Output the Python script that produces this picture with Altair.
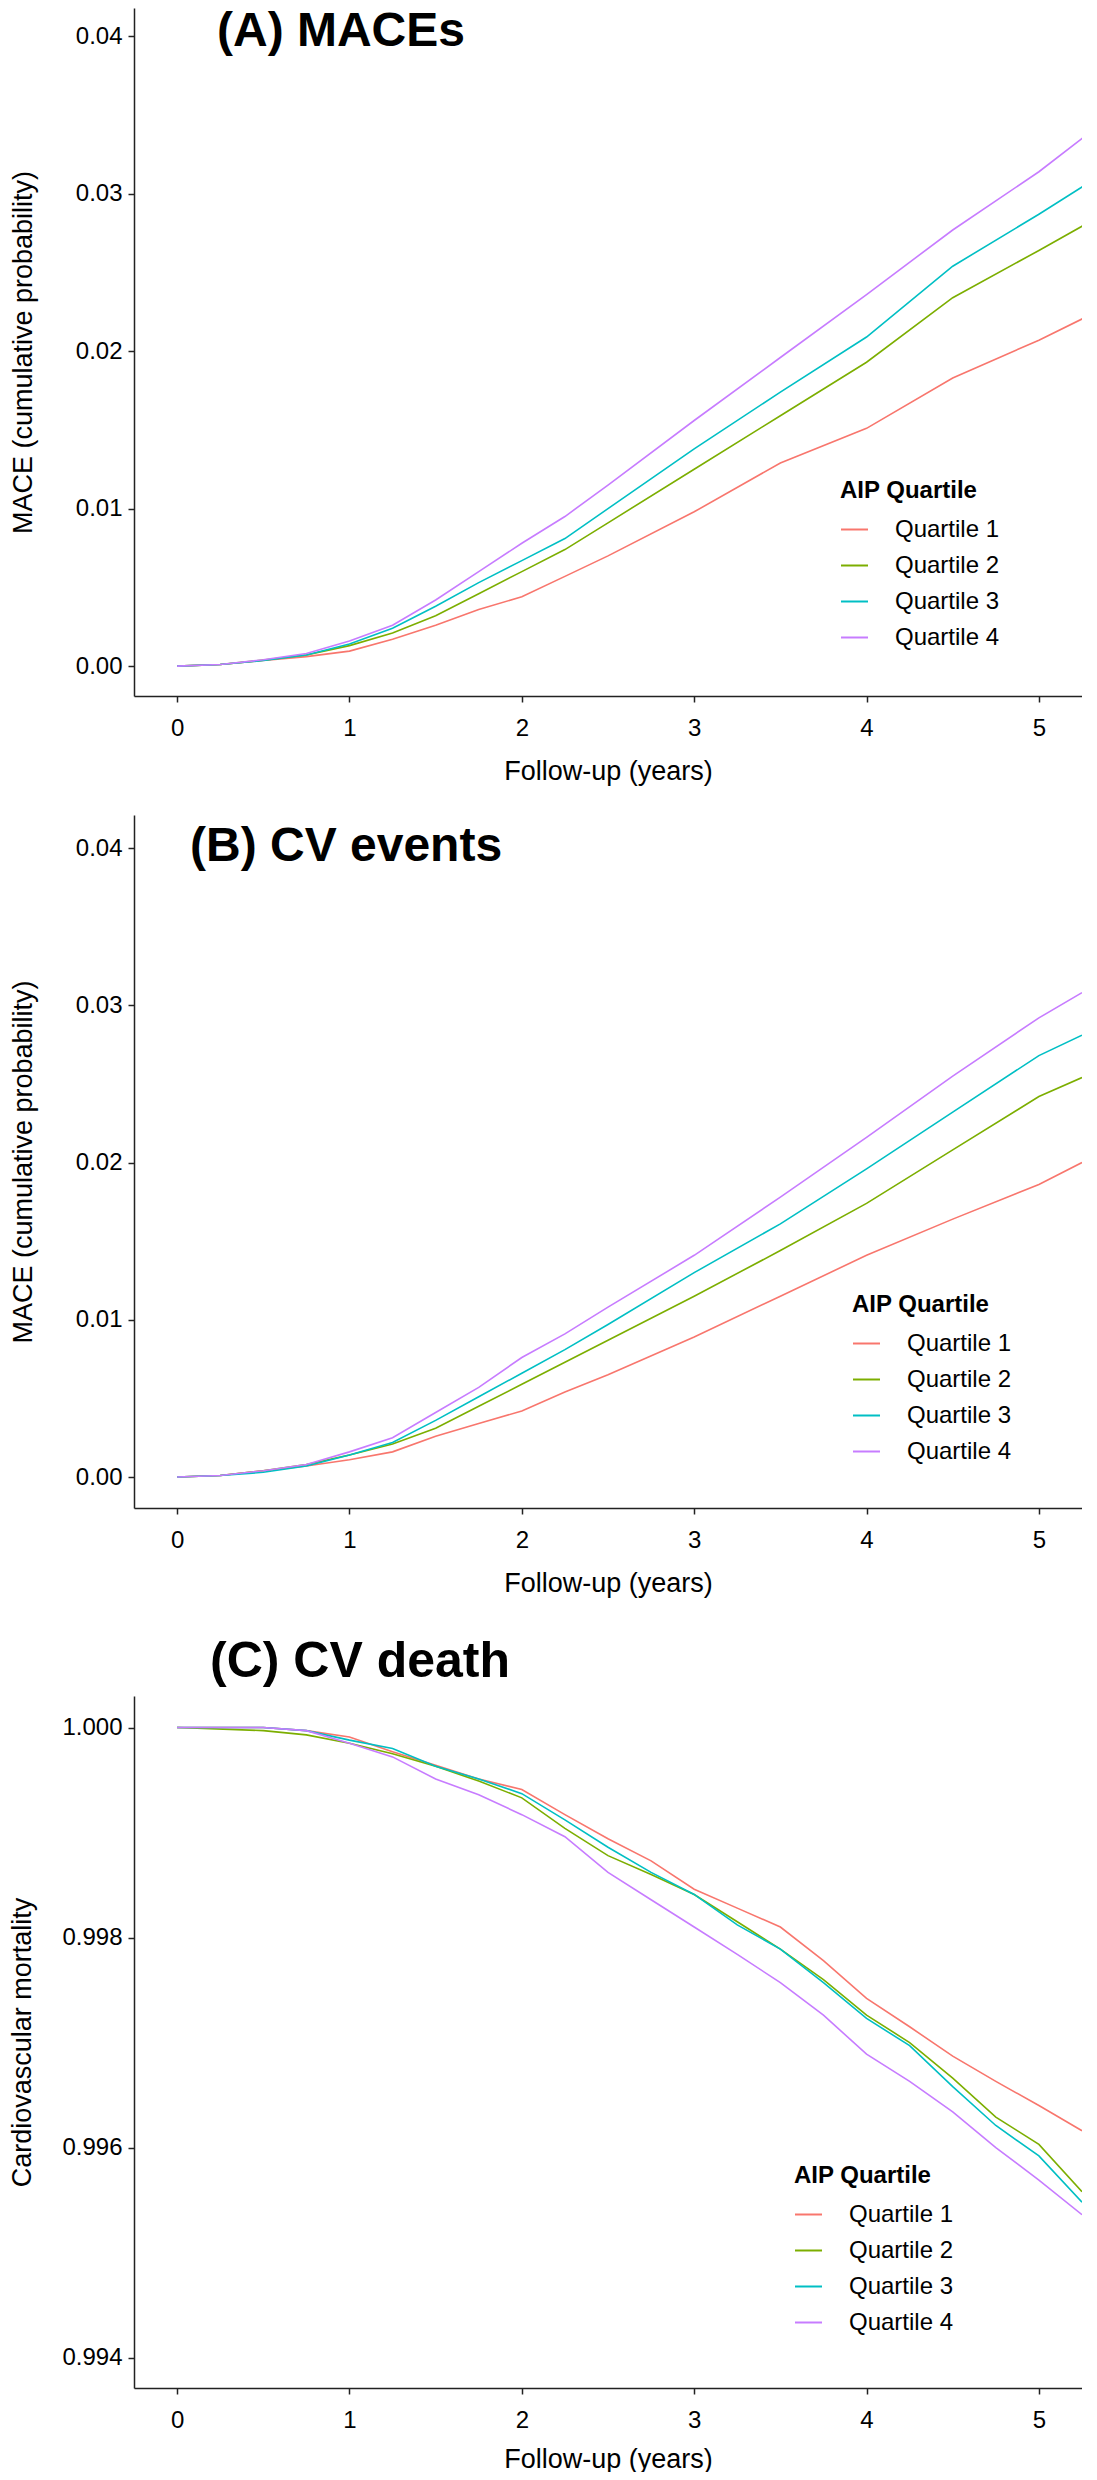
import altair as alt
import pandas as pd

quartiles = ["Quartile 1", "Quartile 2", "Quartile 3", "Quartile 4"]
colors = ["#F8766D", "#7CAE00", "#00BFC4", "#C77CFF"]

# ---------------- Panel A: MACEs ----------------
years_a = [0, 0.25, 0.5, 0.75, 1.0, 1.25, 1.5, 1.75, 2.0, 2.25, 2.5, 3.0, 3.5, 4.0, 4.5, 5.0, 5.26]
a_q1 = [0, 0.0001, 0.00035, 0.0006, 0.00095, 0.0017, 0.0026, 0.0036, 0.0044, 0.0057, 0.0070, 0.0098, 0.0129, 0.0151, 0.0183, 0.0207, 0.0221]
a_q2 = [0, 0.0001, 0.00038, 0.0007, 0.0013, 0.0021, 0.0032, 0.0046, 0.0060, 0.0074, 0.0091, 0.0125, 0.0159, 0.0193, 0.0234, 0.0264, 0.0280]
a_q3 = [0, 0.0001, 0.00035, 0.0007, 0.0014, 0.0024, 0.0038, 0.0053, 0.0067, 0.0081, 0.0100, 0.0138, 0.0174, 0.0209, 0.0254, 0.0287, 0.0305]
a_q4 = [0, 0.0001, 0.0004, 0.0008, 0.0016, 0.0026, 0.0042, 0.0060, 0.0078, 0.0095, 0.0115, 0.0156, 0.0196, 0.0236, 0.0277, 0.0314, 0.0336]

# ---------------- Panel B: CV events ----------------
years_b = [0, 0.25, 0.5, 0.75, 1.0, 1.25, 1.5, 1.75, 2.0, 2.25, 2.5, 3.0, 3.5, 4.0, 4.5, 5.0, 5.25]
b_q1 = [0, 0.0001, 0.0004, 0.0007, 0.0011, 0.0016, 0.0026, 0.0034, 0.0042, 0.0054, 0.0065, 0.0089, 0.0115, 0.0141, 0.0164, 0.0186, 0.0200]
b_q2 = [0, 0.0001, 0.0004, 0.0008, 0.0014, 0.0021, 0.0031, 0.0045, 0.0059, 0.0073, 0.0087, 0.0115, 0.0144, 0.0174, 0.0208, 0.0242, 0.0254]
b_q3 = [0, 0.0001, 0.0003, 0.0007, 0.0014, 0.0022, 0.0036, 0.0051, 0.0066, 0.0081, 0.0097, 0.0130, 0.0161, 0.0196, 0.0232, 0.0268, 0.0281]
b_q4 = [0, 0.0001, 0.0004, 0.0008, 0.0016, 0.0025, 0.0041, 0.0057, 0.0076, 0.0091, 0.0108, 0.0141, 0.0178, 0.0216, 0.0255, 0.0292, 0.0308]

# ---------------- Panel C: CV death ----------------
years_c = [0, 0.5, 0.75, 1.0, 1.25, 1.5, 1.75, 2.0, 2.25, 2.5, 2.75, 3.0, 3.25, 3.5, 3.75, 4.0, 4.25, 4.5, 4.75, 5.0, 5.25]
c_q1 = [1.0, 1.0, 0.99997, 0.99991, 0.99977, 0.99964, 0.99951, 0.99941, 0.99917, 0.99894, 0.99873, 0.99846, 0.99828, 0.99810, 0.99778, 0.99742, 0.99715, 0.99687, 0.99663, 0.99640, 0.99616]
c_q2 = [1.0, 0.99997, 0.99993, 0.99985, 0.99975, 0.99963, 0.99949, 0.99933, 0.99904, 0.99878, 0.99860, 0.99841, 0.99815, 0.99789, 0.99760, 0.99726, 0.99700, 0.99666, 0.99629, 0.99603, 0.99558]
c_q3 = [1.0, 1.0, 0.99997, 0.99988, 0.99980, 0.99963, 0.99951, 0.99937, 0.99912, 0.99886, 0.99862, 0.99841, 0.99812, 0.99789, 0.99757, 0.99723, 0.99697, 0.99658, 0.99621, 0.99592, 0.99548]
c_q4 = [1.0, 1.0, 0.99997, 0.99985, 0.99972, 0.99951, 0.99936, 0.99917, 0.99896, 0.99862, 0.99836, 0.99810, 0.99784, 0.99757, 0.99726, 0.99689, 0.99663, 0.99634, 0.99600, 0.99569, 0.99536]

x_ticks = [0, 1, 2, 3, 4, 5]
y_ticks_ab = [0.0, 0.01, 0.02, 0.03, 0.04]
y_ticks_c = [0.994, 0.996, 0.998, 1.0]

FONT = "Liberation Sans"


def long_table(years, series):
    rows = []
    for q, vals in zip(quartiles, series):
        for t, v in zip(years, vals):
            rows.append({"year": t, "value": v, "group": q})
    return pd.DataFrame(rows)


def panel(df, title_params, ydomain, yticks, yfmt, ytitle, height, legend_x, legend_y,
          ytitle_pad, xtitle_pad=18):
    color = alt.Color(
        "group:N",
        scale=alt.Scale(domain=quartiles, range=colors),
        legend=alt.Legend(
            title="AIP Quartile", orient="none", legendX=legend_x, legendY=legend_y,
            symbolType="stroke", symbolSize=729, symbolStrokeWidth=2,
            labelFontSize=24, titleFontSize=24, titleFontWeight="bold",
            labelFont=FONT, titleFont=FONT, labelColor="black", titleColor="black",
            rowPadding=9, labelOffset=26, titlePadding=12,
        ),
    )
    x = alt.X(
        "year:Q",
        scale=alt.Scale(domain=[-0.25, 5.25], nice=False, zero=False),
        axis=alt.Axis(values=x_ticks, format="d", title="Follow-up (years)",
                      labelPadding=14, titlePadding=xtitle_pad),
    )
    y = alt.Y(
        "value:Q",
        scale=alt.Scale(domain=ydomain, nice=False, zero=False),
        axis=alt.Axis(values=yticks, format=yfmt, title=ytitle,
                      labelPadding=6, titlePadding=ytitle_pad),
    )
    return (
        alt.Chart(df)
        .mark_line(strokeWidth=1.6, clip=True)
        .encode(x=x, y=y, color=color)
        .properties(width=948, height=height, title=title_params)
    )


title_a = alt.TitleParams(text="(A) MACEs", anchor="start", frame="group", fontSize=48,
                          fontWeight="bold", font=FONT, color="black", dx=83, dy=48, offset=0)
title_b = alt.TitleParams(text="(B) CV events", anchor="start", frame="group", fontSize=48,
                          fontWeight="bold", font=FONT, color="black", dx=56, dy=56, offset=0)
# the empty first line of panel C's title only adds a little room above it
title_c = alt.TitleParams(text=["", "(C) CV death"], anchor="start", frame="group",
                          fontSize=50, fontWeight="bold", font=FONT, color="black",
                          dx=76, offset=9, lineHeight=10)

chart_a = panel(long_table(years_a, [a_q1, a_q2, a_q3, a_q4]), title_a,
                [-0.0019, 0.0418], y_ticks_ab, ".2f", "MACE (cumulative probability)",
                688, 706, 471, 38)
chart_b = panel(long_table(years_b, [b_q1, b_q2, b_q3, b_q4]), title_b,
                [-0.00197, 0.0421], y_ticks_ab, ".2f", "MACE (cumulative probability)",
                693, 718, 478, 38)
chart_c = panel(long_table(years_c, [c_q1, c_q2, c_q3, c_q4]), title_c,
                [0.99371, 1.0003], y_ticks_c, ".3f", "Cardiovascular mortality",
                692, 660, 468, 25, xtitle_pad=14)

chart = (
    alt.vconcat(chart_a, chart_b, chart_c, spacing=31)
    .resolve_scale(color="independent")
    .resolve_legend(color="independent")
    .properties(padding=0, background="white")
    .configure_view(stroke=None)
    .configure_axis(
        grid=False, domainColor="#222222", domainWidth=1.5, tickColor="#222222",
        tickWidth=1.5, tickSize=6, labelFont=FONT, titleFont=FONT,
        labelFontSize=24, titleFontSize=27, titleFontWeight="normal",
        labelColor="black", titleColor="black",
    )
)

chart.save("out.html", embed_options={"renderer": "svg", "actions": False})
